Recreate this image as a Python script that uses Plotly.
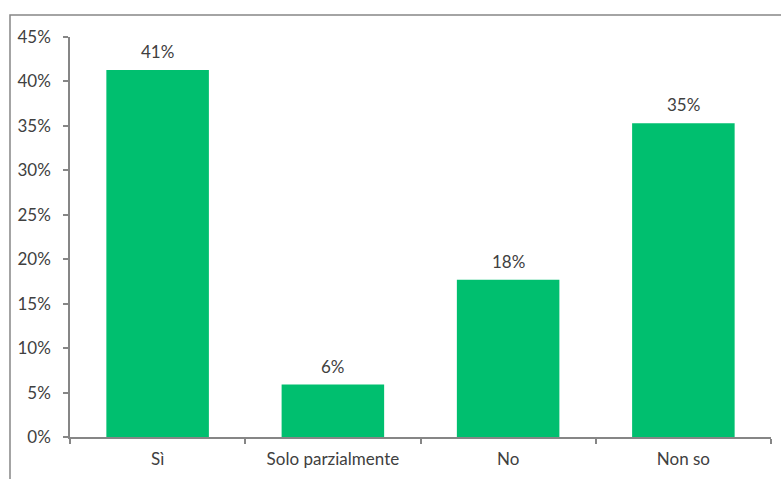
import plotly.graph_objects as go

# Survey answers and their shares
categories = ["Sì", "Solo parzialmente", "No", "Non so"]
shares = [0.413, 0.059, 0.177, 0.353]
y_ticks = [0.0, 0.05, 0.10, 0.15, 0.20, 0.25, 0.30, 0.35, 0.40, 0.45]

BAR_COLOR = "rgb(0,191,111)"
AXIS_COLOR = "#868686"
TEXT_COLOR = "#404040"
FONT = "Lato"
FONT_SIZE = 17

fig = go.Figure(
    go.Bar(
        x=categories,
        y=shares,
        width=0.585,
        marker=dict(color=BAR_COLOR, line=dict(width=0)),
        hoverinfo="skip",
    )
)

# Value labels above each bar
for cat, val in zip(categories, shares):
    fig.add_annotation(
        x=cat, y=val, text=f"{val:.0%}", showarrow=False,
        yanchor="bottom", yshift=6,
        font=dict(family=FONT, size=FONT_SIZE, color=TEXT_COLOR),
    )

# Chart-area frame
fig.add_shape(
    type="rect", xref="paper", yref="paper",
    x0=-0.0856, x1=1.2, y0=-0.3, y1=1.0547,
    line=dict(color=AXIS_COLOR, width=1.5), layer="below",
)

fig.update_layout(
    width=781, height=479,
    margin=dict(l=70, r=10, t=37, b=40),
    paper_bgcolor="white", plot_bgcolor="white",
    showlegend=False,
    font=dict(family=FONT, size=FONT_SIZE, color=TEXT_COLOR),
    xaxis=dict(
        type="category", range=[-0.5, 3.5],
        showline=True, linecolor=AXIS_COLOR, linewidth=1.5,
        ticks="outside", tickson="boundaries", ticklen=5,
        tickcolor=AXIS_COLOR, tickwidth=1.5,
        ticklabelstandoff=6,
        showgrid=False, zeroline=False,
        tickfont=dict(family=FONT, size=FONT_SIZE, color=TEXT_COLOR),
    ),
    yaxis=dict(
        range=[0, 0.45], tickvals=y_ticks, tickformat=".0%",
        showline=True, linecolor=AXIS_COLOR, linewidth=1.5,
        ticks="outside", ticklen=5, tickcolor=AXIS_COLOR, tickwidth=1.5,
        ticklabelstandoff=9,
        showgrid=False, zeroline=False,
        tickfont=dict(family=FONT, size=FONT_SIZE, color=TEXT_COLOR),
    ),
)

fig.write_html("out.html")
